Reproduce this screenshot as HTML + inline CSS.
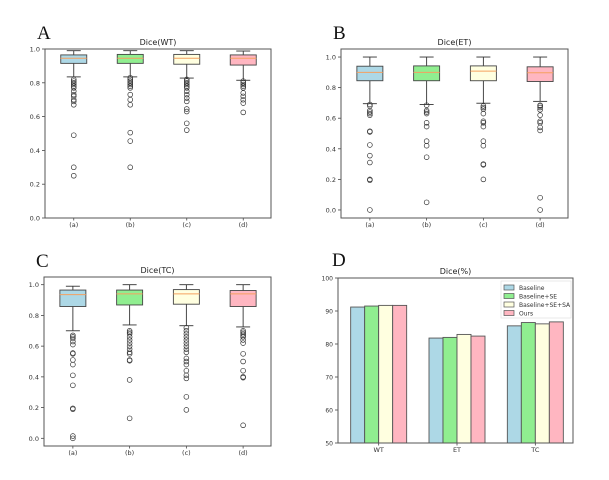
<!DOCTYPE html>
<html><head><meta charset="utf-8"><style>
body{margin:0;background:#fff;width:609px;height:475px;overflow:hidden}
svg text{font-family:"DejaVu Sans","Liberation Sans",sans-serif}
svg text.letter{font-family:"Liberation Serif",serif}
</style></head><body>
<svg id="fig" width="609" height="475" xmlns="http://www.w3.org/2000/svg"></svg>
<script>
const NS="http://www.w3.org/2000/svg";
const fig=document.getElementById('fig');
const groups=['(a)','(b)','(c)','(d)'];
const boxColors=['#add8e6','#90ee90','#ffffe0','#ffb6c1'];
// stats per panel: [whiskerLow, q1, median, q3, whiskerHigh]
const wtStats=[[0.835,0.915,0.945,0.965,0.99],[0.835,0.915,0.945,0.968,0.99],[0.828,0.91,0.945,0.968,0.99],[0.815,0.905,0.945,0.965,0.988]];
const wtOutliers=[[0.82,0.81,0.8,0.79,0.78,0.77,0.75,0.73,0.72,0.7,0.69,0.67,0.49,0.3,0.25],[0.83,0.82,0.81,0.8,0.79,0.78,0.77,0.73,0.7,0.67,0.505,0.455,0.3],[0.82,0.81,0.8,0.79,0.78,0.77,0.75,0.73,0.71,0.69,0.645,0.63,0.56,0.52],[0.81,0.8,0.79,0.78,0.77,0.74,0.72,0.7,0.68,0.625]];
const etStats=[[0.695,0.845,0.9,0.94,1.0],[0.69,0.845,0.9,0.942,1.0],[0.698,0.845,0.908,0.942,1.0],[0.71,0.84,0.897,0.936,1.0]];
const etOutliers=[[0.69,0.68,0.65,0.64,0.63,0.62,0.515,0.51,0.425,0.355,0.31,0.2,0.195,0.0],[0.685,0.65,0.64,0.63,0.57,0.545,0.45,0.42,0.345,0.05],[0.68,0.67,0.66,0.63,0.58,0.57,0.545,0.45,0.42,0.3,0.295,0.2],[0.685,0.68,0.67,0.655,0.62,0.58,0.57,0.54,0.52,0.08,0.0]];
const tcStats=[[0.7,0.858,0.935,0.965,0.99],[0.738,0.868,0.94,0.965,1.0],[0.733,0.873,0.94,0.968,1.0],[0.725,0.858,0.94,0.962,1.0]];
const tcOutliers=[[0.67,0.66,0.65,0.63,0.61,0.555,0.55,0.51,0.48,0.41,0.345,0.195,0.19,0.015,0.0],[0.7,0.69,0.68,0.66,0.64,0.62,0.6,0.58,0.56,0.55,0.51,0.505,0.38,0.13],[0.72,0.7,0.68,0.66,0.64,0.62,0.6,0.58,0.56,0.52,0.5,0.48,0.44,0.41,0.39,0.27,0.185],[0.7,0.69,0.68,0.67,0.66,0.64,0.62,0.55,0.5,0.44,0.4,0.395,0.085]];
const wtTicks=[0.0,0.2,0.4,0.6,0.8,1.0];
const etTicks=[0.0,0.2,0.4,0.6,0.8,1.0];
const tcTicks=[0.0,0.2,0.4,0.6,0.8,1.0];
const barCats=['WT','ET','TC'];
const seriesNames=['Baseline','Baseline+SE','Baseline+SE+SA','Ours'];
const baselineVals=[91.2,81.8,85.5];
const seVals=[91.5,82.0,86.5];
const seSaVals=[91.7,82.9,86.1];
const oursVals=[91.7,82.4,86.7];
const barTicks=[50,60,70,80,90,100];

function el(tag,attrs,parent,text){const e=document.createElementNS(NS,tag);for(const k in attrs)e.setAttribute(k,attrs[k]);if(text!==undefined)e.textContent=text;(parent||fig).appendChild(e);return e;}

function boxPanel(name,letter,title,ax,ymin,ymax,stats,outs,ticks,keyName){
  const g=el('g',{},fig);
  
  
  const y=v=>ax.y1-(v-ymin)/(ymax-ymin)*(ax.y1-ax.y0);
  const xs=i=>ax.x0+(ax.x1-ax.x0)*(i+0.5)/groups.length+0.5;
  const L=el('text',{class:'letter',x:ax.x0-8,y:ax.y0-10,'font-size':19,fill:'#111'},g,letter);
  
  const T=el('text',{x:(ax.x0+ax.x1)/2,y:ax.y0-4,'font-size':8,'text-anchor':'middle',fill:'#222'},g,title);
  
  ticks.forEach(t=>{const yy=y(t);el('line',{x1:ax.x0-3,x2:ax.x0,y1:yy,y2:yy,stroke:'#444','stroke-width':0.8},g);
    const tt=el('text',{x:ax.x0-5,y:yy+2.5,'font-size':6.5,'text-anchor':'end',fill:'#333'},g,t.toFixed(1));
    });
  const hw=13;
  stats.forEach((s,i)=>{const cx=xs(i);
    const bg=el('g',{},g);
    el('line',{x1:cx,x2:cx,y1:y(s[0]),y2:y(s[1]),stroke:'#333','stroke-width':0.9},bg);
    el('line',{x1:cx,x2:cx,y1:y(s[3]),y2:y(s[4]),stroke:'#333','stroke-width':0.9},bg);
    el('line',{x1:cx-7,x2:cx+7,y1:y(s[0]),y2:y(s[0]),stroke:'#333','stroke-width':0.9},bg);
    el('line',{x1:cx-7,x2:cx+7,y1:y(s[4]),y2:y(s[4]),stroke:'#333','stroke-width':0.9},bg);
    el('rect',{x:cx-hw,y:y(s[3]),width:2*hw,height:y(s[1])-y(s[3]),fill:boxColors[i],stroke:'#444','stroke-width':0.9},bg);
    el('line',{x1:cx-hw,x2:cx+hw,y1:y(s[2]),y2:y(s[2]),stroke:'#f5a060','stroke-width':1},bg);
    outs[i].forEach(o=>{const c=el('circle',{cx:cx,cy:y(o),r:2.4,fill:'none',stroke:'#333','stroke-width':0.7},bg);
      });
    const xl=el('text',{x:cx,y:ax.y1+9,'font-size':6.5,'text-anchor':'middle',fill:'#333'},g,groups[i]);
    
    el('line',{x1:cx,x2:cx,y1:ax.y1,y2:ax.y1+2.5,stroke:'#444','stroke-width':0.8},g);
  });
  const fr=el('rect',{x:ax.x0,y:ax.y0,width:ax.x1-ax.x0,height:ax.y1-ax.y0,fill:'none',stroke:'#555','stroke-width':1},g);
  
}
boxPanel('A','A','Dice(WT)',{x0:45,x1:271,y0:49,y1:218},0,1,wtStats,wtOutliers,wtTicks,'boxplot-wt');
boxPanel('B','B','Dice(ET)',{x0:341,x1:568,y0:49,y1:218},-0.0525,1.0525,etStats,etOutliers,etTicks,'boxplot-et');
boxPanel('C','C','Dice(TC)',{x0:44,x1:271,y0:277,y1:446},-0.05,1.05,tcStats,tcOutliers,tcTicks,'boxplot-tc');

// bar chart D
(function(){
  const ax={x0:338,x1:573,y0:278,y1:443};
  const g=el('g',{},fig);
  
  
  const y=v=>ax.y1-(v-50)/50*(ax.y1-ax.y0);
  const L=el('text',{class:'letter',x:ax.x0-6,y:ax.y0-12,'font-size':19,fill:'#111'},g,'D');
  
  const T=el('text',{x:(ax.x0+ax.x1)/2,y:ax.y0-4,'font-size':8,'text-anchor':'middle',fill:'#222'},g,'Dice(%)');
  
  barTicks.forEach(t=>{const yy=y(t);el('line',{x1:ax.x0-3,x2:ax.x0,y1:yy,y2:yy,stroke:'#444','stroke-width':0.8},g);
    const tt=el('text',{x:ax.x0-5,y:yy+2.5,'font-size':6,'text-anchor':'end',fill:'#333'},g,String(t));
    });
  const series=[baselineVals,seVals,seSaVals,oursVals];
  const bw=14;
  const gx=i=>ax.x0+(ax.x1-ax.x0)*(i*1+0.5)/3+1.5;
  barCats.forEach((c,i)=>{const cx=gx(i);
    series.forEach((s,j)=>{const bx=cx+(j-2)*bw;
      const r=el('rect',{x:bx,y:y(s[i]),width:bw,height:ax.y1-y(s[i]),fill:boxColors[j],stroke:'#555','stroke-width':0.9},g);
      
      });
    el('line',{x1:cx,x2:cx,y1:ax.y1,y2:ax.y1+2.5,stroke:'#444','stroke-width':0.8},g);
    const xl=el('text',{x:cx,y:ax.y1+9,'font-size':6.5,'text-anchor':'middle',fill:'#333'},g,c);
    
  });
  const fr=el('rect',{x:ax.x0,y:ax.y0,width:ax.x1-ax.x0,height:ax.y1-ax.y0,fill:'none',stroke:'#555','stroke-width':1},g);
  
  const lg=el('g',{},g);
  
  
  el('rect',{x:501,y:281,width:70,height:37,fill:'#fff',stroke:'#ddd','stroke-width':0.6},lg);
  seriesNames.forEach((n,j)=>{const yy=285+j*8.5;
    const e=el('g',{},lg);
    el('rect',{x:504,y:yy,width:10,height:5,fill:boxColors[j],stroke:'#555','stroke-width':0.7},e);
    el('text',{x:519,y:yy+5,'font-size':6,fill:'#333'},e,n);});
})();
</script>
</body></html>
